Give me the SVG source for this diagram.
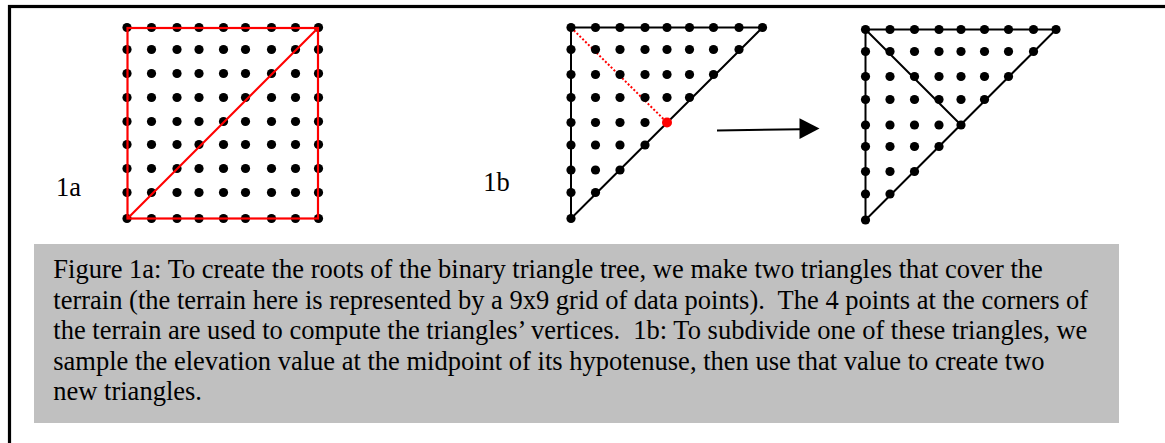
<svg xmlns="http://www.w3.org/2000/svg" width="1165" height="443" viewBox="0 0 1165 443">
<style>
.dot{fill:#000}
.red{fill:#ff0000}
.t{font-family:"Liberation Serif","Times New Roman",serif;font-size:26.5px;fill:#000}
.blk{stroke:#000;stroke-width:2;fill:none;stroke-linecap:round;stroke-linejoin:round}
.rl{stroke:#ff0000;stroke-width:2.2;fill:none}
</style>
<rect width="1165" height="443" fill="#fff"/>
<g id="frame"><rect x="9.5" y="6.5" width="1200" height="460" fill="none" stroke="#000" stroke-width="3.2"/></g>
<g id="caption">
<rect x="34" y="244" width="1085" height="179" fill="#c0c0c0"/>
<text class="t" x="53.3" y="278" xml:space="preserve">Figure 1a: To create the roots of the binary triangle tree, we make two triangles that cover the</text>
<text class="t" x="53.3" y="308.5" xml:space="preserve">terrain (the terrain here is represented by a 9x9 grid of data points).  The 4 points at the corners of</text>
<text class="t" x="53.3" y="339" xml:space="preserve">the terrain are used to compute the triangles’ vertices.  1b: To subdivide one of these triangles, we</text>
<text class="t" x="53.3" y="369.5" xml:space="preserve">sample the elevation value at the midpoint of its hypotenuse, then use that value to create two</text>
<text class="t" x="53.3" y="400" xml:space="preserve">new triangles.</text>
</g>
<g id="label-1a"><text class="t" x="56" y="195.5">1a</text></g>
<g id="label-1b"><text class="t" x="483.3" y="190.5">1b</text></g>
<g id="fig1a">
<g class="dot">
<circle cx="127" cy="27.5" r="4.6"/><circle cx="151.5" cy="27.5" r="4.6"/><circle cx="177" cy="27.5" r="4.6"/><circle cx="199" cy="27.5" r="4.6"/><circle cx="223.5" cy="27.5" r="4.6"/><circle cx="245.5" cy="27.5" r="4.6"/><circle cx="271.5" cy="27.5" r="4.6"/><circle cx="295.5" cy="27.5" r="4.6"/><circle cx="318.5" cy="27.5" r="4.6"/>
<circle cx="127" cy="49.5" r="4.6"/><circle cx="151.5" cy="49.5" r="4.6"/><circle cx="177" cy="49.5" r="4.6"/><circle cx="199" cy="49.5" r="4.6"/><circle cx="223.5" cy="49.5" r="4.6"/><circle cx="245.5" cy="49.5" r="4.6"/><circle cx="271.5" cy="49.5" r="4.6"/><circle cx="295.5" cy="49.5" r="4.6"/><circle cx="318.5" cy="49.5" r="4.6"/>
<circle cx="127" cy="73.5" r="4.6"/><circle cx="151.5" cy="73.5" r="4.6"/><circle cx="177" cy="73.5" r="4.6"/><circle cx="199" cy="73.5" r="4.6"/><circle cx="223.5" cy="73.5" r="4.6"/><circle cx="245.5" cy="73.5" r="4.6"/><circle cx="271.5" cy="73.5" r="4.6"/><circle cx="295.5" cy="73.5" r="4.6"/><circle cx="318.5" cy="73.5" r="4.6"/>
<circle cx="127" cy="97.5" r="4.6"/><circle cx="151.5" cy="97.5" r="4.6"/><circle cx="177" cy="97.5" r="4.6"/><circle cx="199" cy="97.5" r="4.6"/><circle cx="223.5" cy="97.5" r="4.6"/><circle cx="245.5" cy="97.5" r="4.6"/><circle cx="271.5" cy="97.5" r="4.6"/><circle cx="295.5" cy="97.5" r="4.6"/><circle cx="318.5" cy="97.5" r="4.6"/>
<circle cx="127" cy="121.5" r="4.6"/><circle cx="151.5" cy="121.5" r="4.6"/><circle cx="177" cy="121.5" r="4.6"/><circle cx="199" cy="121.5" r="4.6"/><circle cx="223.5" cy="121.5" r="4.6"/><circle cx="245.5" cy="121.5" r="4.6"/><circle cx="271.5" cy="121.5" r="4.6"/><circle cx="295.5" cy="121.5" r="4.6"/><circle cx="318.5" cy="121.5" r="4.6"/>
<circle cx="127" cy="144.5" r="4.6"/><circle cx="151.5" cy="144.5" r="4.6"/><circle cx="177" cy="144.5" r="4.6"/><circle cx="199" cy="144.5" r="4.6"/><circle cx="223.5" cy="144.5" r="4.6"/><circle cx="245.5" cy="144.5" r="4.6"/><circle cx="271.5" cy="144.5" r="4.6"/><circle cx="295.5" cy="144.5" r="4.6"/><circle cx="318.5" cy="144.5" r="4.6"/>
<circle cx="127" cy="168.5" r="4.6"/><circle cx="151.5" cy="168.5" r="4.6"/><circle cx="177" cy="168.5" r="4.6"/><circle cx="199" cy="168.5" r="4.6"/><circle cx="223.5" cy="168.5" r="4.6"/><circle cx="245.5" cy="168.5" r="4.6"/><circle cx="271.5" cy="168.5" r="4.6"/><circle cx="295.5" cy="168.5" r="4.6"/><circle cx="318.5" cy="168.5" r="4.6"/>
<circle cx="127" cy="192.5" r="4.6"/><circle cx="151.5" cy="192.5" r="4.6"/><circle cx="177" cy="192.5" r="4.6"/><circle cx="199" cy="192.5" r="4.6"/><circle cx="223.5" cy="192.5" r="4.6"/><circle cx="245.5" cy="192.5" r="4.6"/><circle cx="271.5" cy="192.5" r="4.6"/><circle cx="295.5" cy="192.5" r="4.6"/><circle cx="318.5" cy="192.5" r="4.6"/>
<circle cx="127" cy="218.5" r="4.6"/><circle cx="151.5" cy="218.5" r="4.6"/><circle cx="177" cy="218.5" r="4.6"/><circle cx="199" cy="218.5" r="4.6"/><circle cx="223.5" cy="218.5" r="4.6"/><circle cx="245.5" cy="218.5" r="4.6"/><circle cx="271.5" cy="218.5" r="4.6"/><circle cx="295.5" cy="218.5" r="4.6"/><circle cx="318.5" cy="218.5" r="4.6"/>
</g>
<rect class="rl" x="127.5" y="28" width="190.5" height="190.5"/>
<line class="rl" x1="127.5" y1="218.5" x2="318" y2="28"/>
</g>
<g id="fig1b-before">
<path class="blk" d="M571,218.5 L571,27.5 L762.5,27.5 Z"/>
<line x1="571" y1="27.5" x2="667" y2="122.5" stroke="#ff0000" stroke-width="2" stroke-dasharray="2,2"/>
<g class="dot">
<circle cx="571" cy="27.5" r="4.6"/><circle cx="595.5" cy="27.5" r="4.6"/><circle cx="620" cy="27.5" r="4.6"/><circle cx="645" cy="27.5" r="4.6"/><circle cx="667" cy="27.5" r="4.6"/><circle cx="689.5" cy="27.5" r="4.6"/><circle cx="713.5" cy="27.5" r="4.6"/><circle cx="739" cy="27.5" r="4.6"/><circle cx="762.5" cy="27.5" r="4.6"/>
<circle cx="571" cy="49.5" r="4.6"/><circle cx="595.5" cy="49.5" r="4.6"/><circle cx="620" cy="49.5" r="4.6"/><circle cx="645" cy="49.5" r="4.6"/><circle cx="667" cy="49.5" r="4.6"/><circle cx="689.5" cy="49.5" r="4.6"/><circle cx="713.5" cy="49.5" r="4.6"/><circle cx="739" cy="49.5" r="4.6"/>
<circle cx="571" cy="74.5" r="4.6"/><circle cx="595.5" cy="74.5" r="4.6"/><circle cx="620" cy="74.5" r="4.6"/><circle cx="645" cy="74.5" r="4.6"/><circle cx="667" cy="74.5" r="4.6"/><circle cx="689.5" cy="74.5" r="4.6"/><circle cx="713.5" cy="74.5" r="4.6"/>
<circle cx="571" cy="97.5" r="4.6"/><circle cx="595.5" cy="97.5" r="4.6"/><circle cx="620" cy="97.5" r="4.6"/><circle cx="645" cy="97.5" r="4.6"/><circle cx="667" cy="97.5" r="4.6"/><circle cx="689.5" cy="97.5" r="4.6"/>
<circle cx="571" cy="122.5" r="4.6"/><circle cx="595.5" cy="122.5" r="4.6"/><circle cx="620" cy="122.5" r="4.6"/><circle cx="645" cy="122.5" r="4.6"/>
<circle cx="571" cy="145" r="4.6"/><circle cx="595.5" cy="145" r="4.6"/><circle cx="620" cy="145" r="4.6"/><circle cx="645" cy="145" r="4.6"/>
<circle cx="571" cy="170" r="4.6"/><circle cx="595.5" cy="170" r="4.6"/><circle cx="620" cy="170" r="4.6"/>
<circle cx="571" cy="192.5" r="4.6"/><circle cx="595.5" cy="192.5" r="4.6"/>
<circle cx="571" cy="218.5" r="4.6"/>
</g>
<circle class="red" cx="667" cy="122.5" r="5"/>
</g>
<g id="connectors">
<line x1="717" y1="130.5" x2="801" y2="129.3" stroke="#000" stroke-width="2"/>
<polygon points="799.5,118.3 819.5,128.5 799.5,139" fill="#000"/>
</g>
<g id="fig1b-after">
<path class="blk" d="M865.5,220 L865.5,29.5 L1056,29.5 Z M865.5,29.5 L961,125"/>
<g class="dot">
<circle cx="865.5" cy="29.5" r="4.6"/><circle cx="890" cy="29.5" r="4.6"/><circle cx="914.5" cy="29.5" r="4.6"/><circle cx="939" cy="29.5" r="4.6"/><circle cx="961" cy="29.5" r="4.6"/><circle cx="984.5" cy="29.5" r="4.6"/><circle cx="1008.5" cy="29.5" r="4.6"/><circle cx="1033.5" cy="29.5" r="4.6"/><circle cx="1056" cy="29.5" r="4.6"/>
<circle cx="865.5" cy="51.5" r="4.6"/><circle cx="890" cy="51.5" r="4.6"/><circle cx="914.5" cy="51.5" r="4.6"/><circle cx="939" cy="51.5" r="4.6"/><circle cx="961" cy="51.5" r="4.6"/><circle cx="984.5" cy="51.5" r="4.6"/><circle cx="1008.5" cy="51.5" r="4.6"/><circle cx="1033.5" cy="51.5" r="4.6"/>
<circle cx="865.5" cy="76.5" r="4.6"/><circle cx="890" cy="76.5" r="4.6"/><circle cx="914.5" cy="76.5" r="4.6"/><circle cx="939" cy="76.5" r="4.6"/><circle cx="961" cy="76.5" r="4.6"/><circle cx="984.5" cy="76.5" r="4.6"/><circle cx="1008.5" cy="76.5" r="4.6"/>
<circle cx="865.5" cy="99.5" r="4.6"/><circle cx="890" cy="99.5" r="4.6"/><circle cx="914.5" cy="99.5" r="4.6"/><circle cx="939" cy="99.5" r="4.6"/><circle cx="961" cy="99.5" r="4.6"/><circle cx="984.5" cy="99.5" r="4.6"/>
<circle cx="865.5" cy="125" r="4.6"/><circle cx="890" cy="125" r="4.6"/><circle cx="914.5" cy="125" r="4.6"/><circle cx="939" cy="125" r="4.6"/><circle cx="961" cy="125" r="4.6"/>
<circle cx="865.5" cy="146.5" r="4.6"/><circle cx="890" cy="146.5" r="4.6"/><circle cx="914.5" cy="146.5" r="4.6"/><circle cx="939" cy="146.5" r="4.6"/>
<circle cx="865.5" cy="171.5" r="4.6"/><circle cx="890" cy="171.5" r="4.6"/><circle cx="914.5" cy="171.5" r="4.6"/>
<circle cx="865.5" cy="194" r="4.6"/><circle cx="890" cy="194" r="4.6"/>
<circle cx="865.5" cy="220" r="4.6"/>
</g>
</g>
</svg>
